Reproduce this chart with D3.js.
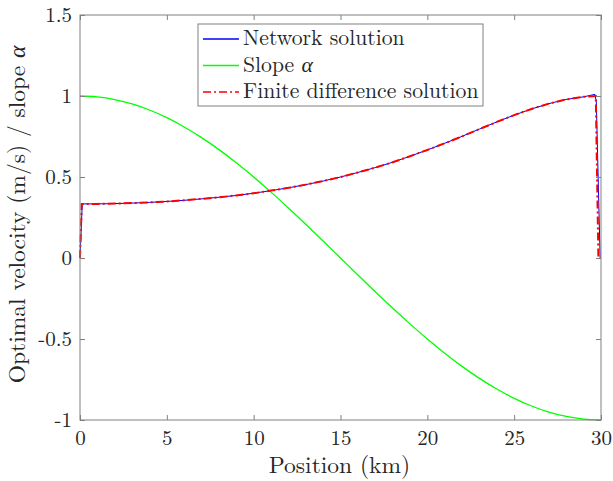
<!DOCTYPE html>
<html>
<head>
<meta charset="utf-8">
<script src="https://cdn.jsdelivr.net/npm/d3@7"></script>
<style>
  body { margin: 0; background: #fff; }
</style>
</head>
<body>
<div id="chart"></div>
<script>
// Data
var positions = [0, 0.13, 1, 2, 3, 4, 5, 6, 7, 8, 9, 10, 11, 12, 13, 14, 15, 16, 17, 18, 19,
    20, 21, 22, 23, 24, 25, 26, 27, 28, 29, 29.65, 29.73, 29.95];
var networkVelocity = [0, 0.334, 0.334, 0.336, 0.339, 0.343, 0.349, 0.356, 0.365, 0.375, 0.386,
    0.400, 0.416, 0.433, 0.453, 0.475, 0.500, 0.528, 0.558, 0.591, 0.628,
    0.667, 0.708, 0.751, 0.796, 0.840, 0.882, 0.920, 0.953, 0.979, 0.995, 1.01, 0.965, 0];
var fdPositions = [0, 0.1, 1, 2, 3, 4, 5, 6, 7, 8, 9, 10, 11, 12, 13, 14, 15, 16, 17, 18, 19,
    20, 21, 22, 23, 24, 25, 26, 27, 28, 29, 29.7, 29.85];
var fdVelocity = [0, 0.333, 0.334, 0.336, 0.339, 0.343, 0.349, 0.356, 0.365, 0.375, 0.386,
    0.400, 0.416, 0.433, 0.453, 0.475, 0.500, 0.528, 0.558, 0.591, 0.628,
    0.667, 0.708, 0.751, 0.796, 0.840, 0.882, 0.920, 0.953, 0.979, 0.995, 1.0, 0];
var slopePositions = [0, 1, 2, 3, 4, 5, 6, 7, 8, 9, 10, 11, 12, 13, 14, 15,
    16, 17, 18, 19, 20, 21, 22, 23, 24, 25, 26, 27, 28, 29, 30];
var slopeValues = [1, 0.9945, 0.9781, 0.9511, 0.9135, 0.8660, 0.8090, 0.7431, 0.6691, 0.5878,
    0.5, 0.4067, 0.3090, 0.2079, 0.1045, 0, -0.1045, -0.2079, -0.3090, -0.4067,
    -0.5, -0.5878, -0.6691, -0.7431, -0.8090, -0.8660, -0.9135, -0.9511, -0.9781, -0.9945, -1];
var xTicks = [0, 5, 10, 15, 20, 25, 30];
var yTicks = [-1, -0.5, 0, 0.5, 1, 1.5];
var legendLabels = ["Network solution", "Slope ", "Finite difference solution"];

var margin = { top: 15, right: 12, bottom: 61, left: 80 },
    width = 613 - margin.left - margin.right,
    height = 481 - margin.top - margin.bottom;

var font = "'Latin Modern Roman', 'Liberation Serif', serif";
var tickSize = "21px";
var legendSize = "21.7px";
var labelSize = "23.5px";
var axisColor = "#808080";
var textColor = "#262626";

var svg = d3.select("#chart")
    .append("svg")
    .attr("width", 613)
    .attr("height", 481)
    .append("g")
    .attr("transform", "translate(" + margin.left + "," + margin.top + ")");

var x = d3.scaleLinear().domain([0, 30]).range([0, width]);
var y = d3.scaleLinear().domain([-1, 1.5]).range([height, 0]);

// Lines
var line = d3.line()
    .x(function (d) { return x(d[0]); })
    .y(function (d) { return y(d[1]); });

svg.append("path")
    .datum(d3.zip(positions, networkVelocity))
    .attr("d", line)
    .attr("fill", "none")
    .attr("stroke", "#0000ff")
    .attr("stroke-width", 1);

svg.append("path")
    .datum(d3.zip(slopePositions, slopeValues))
    .attr("d", line.curve(d3.curveMonotoneX))
    .attr("fill", "none")
    .attr("stroke", "#00ff00")
    .attr("stroke-width", 1.3);

svg.append("path")
    .datum(d3.zip(fdPositions, fdVelocity))
    .attr("d", line.curve(d3.curveLinear))
    .attr("fill", "none")
    .attr("stroke", "#ff0000")
    .attr("stroke-width", 2)
    .attr("stroke-dasharray", "8,3,2,3");

// Box and ticks
svg.append("rect")
    .attr("width", width)
    .attr("height", height)
    .attr("fill", "none")
    .attr("stroke", axisColor)
    .attr("stroke-width", 1);

var bottomAxis = svg.append("g")
    .attr("transform", "translate(0," + height + ")")
    .call(d3.axisBottom(x).tickValues(xTicks).tickSize(-5).tickPadding(10).tickFormat(d3.format("d")));
var topAxis = svg.append("g")
    .call(d3.axisTop(x).tickValues(xTicks).tickSize(-5).tickFormat(""));
var leftAxis = svg.append("g")
    .call(d3.axisLeft(y).tickValues(yTicks).tickSize(-5).tickPadding(8).tickFormat(function (d) { return String(d); }));
var rightAxis = svg.append("g")
    .attr("transform", "translate(" + width + ",0)")
    .call(d3.axisRight(y).tickValues(yTicks).tickSize(-5).tickFormat(""));

[bottomAxis, topAxis, leftAxis, rightAxis].forEach(function (g) {
    g.select(".domain").remove();
    g.selectAll(".tick line").attr("stroke", axisColor);
    g.selectAll(".tick text")
        .style("font-family", font)
        .style("font-size", tickSize)
        .attr("fill", textColor);
});

// Axis labels
svg.append("text")
    .attr("x", width / 2 - 1)
    .attr("y", height + 53)
    .attr("text-anchor", "middle")
    .style("font-family", font)
    .style("font-size", labelSize)
    .attr("fill", textColor)
    .text("Position (km)");

var yLabel = svg.append("text")
    .attr("transform", "translate(-55," + (height / 2 - 3) + ") rotate(-90)")
    .attr("text-anchor", "middle")
    .style("font-family", font)
    .style("font-size", labelSize)
    .attr("fill", textColor)
    .text("Optimal velocity (m/s) / slope ");
yLabel.append("tspan").style("font-style", "italic").text("\u03b1");

// Legend
var legend = svg.append("g").attr("transform", "translate(118,9)");
legend.append("rect")
    .attr("width", 285)
    .attr("height", 82)
    .attr("fill", "#fff")
    .attr("stroke", axisColor);

var legendColors = ["#0000ff", "#00ff00", "#ff0000"];
var legendDash = [null, null, "8,3,2,3"];
legendLabels.forEach(function (label, i) {
    var ly = 15 + i * 26.5;
    legend.append("line")
        .attr("x1", 5).attr("x2", 41)
        .attr("y1", ly).attr("y2", ly)
        .attr("stroke", legendColors[i])
        .attr("stroke-width", 1.3)
        .attr("stroke-dasharray", legendDash[i]);
    var t = legend.append("text")
        .attr("x", 45)
        .attr("y", ly + 6)
        .style("font-family", font)
        .style("font-size", legendSize)
        .attr("fill", textColor)
        .text(label);
    if (i === 1) t.append("tspan").style("font-style", "italic").text("\u03b1");
});
</script>
</body>
</html>
